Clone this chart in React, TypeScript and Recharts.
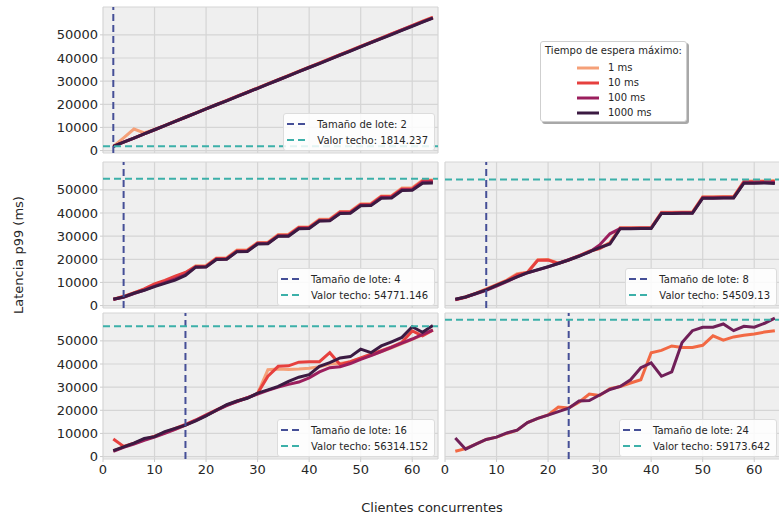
import React from 'react'
import { LineChart, Line, XAxis, YAxis, CartesianGrid, ReferenceLine } from 'recharts'

const clients = [2, 4, 6, 8, 10, 12, 14, 16, 18, 20, 22, 24, 26, 28, 30, 32, 34, 36, 38, 40, 42, 44, 46, 48, 50, 52, 54, 56, 58, 60, 62, 64]
const xTicks = [0, 10, 20, 30, 40, 50, 60]
const yTicks = [0, 10000, 20000, 30000, 40000, 50000]

const waitLabels = ['1 ms', '10 ms', '100 ms', '1000 ms']
const waitColors = ['#f5a078', '#e6403e', '#9b1e5d', '#3b1a42']
const pairColors = ['#f26944', '#701f58']

const batchSizes = [2, 4, 8, 16, 24]
const ceilings = [1814.237, 54771.146, 54509.13, 56314.152, 59173.642]

// lote 2
const b2_1 = [1800, 5500, 9300, 7600, 9100, 10900, 12700, 14500, 16300, 18100, 19900, 21700, 23500, 25300, 27100, 28900, 30700, 32500, 34300, 36100, 37900, 39700, 41500, 43300, 45100, 46900, 48700, 50500, 52300, 54100, 55900, 57700]
const b2_10 = [1800, 3600, 5400, 7200, 9000, 10800, 12600, 14400, 16200, 18000, 19800, 21600, 23400, 25200, 27000, 28800, 30600, 32400, 34200, 36000, 37800, 39600, 41400, 43200, 45000, 46800, 48600, 50400, 52200, 54000, 55800, 57500]
const b2_100 = [1800, 3600, 5400, 7200, 9000, 10800, 12600, 14400, 16200, 18000, 19800, 21600, 23400, 25100, 26900, 28700, 30500, 32300, 34100, 35900, 37700, 39500, 41300, 43100, 44900, 46700, 48500, 50300, 52100, 53900, 55600, 57300]
const b2_1000 = [1800, 3600, 5400, 7200, 9000, 10800, 12600, 14400, 16200, 18000, 19800, 21500, 23300, 25100, 26900, 28700, 30500, 32300, 34100, 35900, 37600, 39400, 41200, 43000, 44800, 46600, 48400, 50100, 51900, 53700, 55500, 57200]

// lote 4
const b4_1 = [2800, 4000, 5600, 7000, 8800, 10400, 12000, 14200, 17200, 17300, 20600, 20700, 24000, 24100, 27300, 27400, 30700, 30800, 34000, 34100, 37300, 37400, 40700, 40800, 44000, 44100, 47400, 47500, 50800, 50900, 54200, 54300]
const b4_10 = [2600, 3900, 5500, 7200, 9400, 10900, 12700, 14300, 16900, 17000, 20300, 20400, 23700, 23800, 27000, 27100, 30400, 30500, 33700, 33800, 37000, 37100, 40400, 40500, 43700, 43800, 47100, 47200, 50400, 50500, 53800, 53900]
const b4_100 = [2700, 3600, 5200, 6700, 8400, 9900, 11500, 13400, 16700, 16800, 20000, 20100, 23400, 23500, 26800, 26900, 30100, 30200, 33400, 33500, 36700, 36800, 40000, 40100, 43400, 43500, 46700, 46800, 50000, 50100, 53300, 53400]
const b4_1000 = [2700, 3700, 5300, 6600, 8200, 9600, 11000, 13000, 16600, 16700, 19900, 20000, 23300, 23400, 26600, 26700, 30000, 30000, 33200, 33300, 36500, 36600, 39800, 39900, 43100, 43200, 46400, 46500, 49700, 49800, 52900, 53000]

// lote 8
const b8_1 = [2600, 3800, 5400, 7200, 9000, 11000, 13800, 14400, 19800, 19900, 18300, 19800, 21600, 23400, 24900, 27200, 33600, 33600, 33700, 33700, 40300, 40300, 40400, 40400, 47000, 47000, 47100, 47100, 53700, 53800, 53800, 54000]
const b8_10 = [2500, 3600, 5300, 7000, 8900, 10800, 13300, 14300, 19600, 19700, 18200, 19700, 21500, 23500, 24600, 27000, 33500, 33500, 33500, 33600, 40100, 40100, 40200, 40200, 46800, 46800, 46900, 46900, 53500, 53500, 53600, 53600]
const b8_100 = [2600, 3700, 5100, 6600, 8400, 10300, 12500, 14100, 15400, 16700, 18300, 19800, 21500, 23100, 26200, 31000, 33300, 33300, 33400, 33400, 39900, 39900, 40000, 40000, 46500, 46500, 46600, 46600, 53100, 53100, 53200, 53200]
const b8_1000 = [2700, 3700, 5200, 6800, 8700, 10600, 12400, 14200, 15500, 16800, 18200, 19700, 21300, 23200, 25000, 26600, 33200, 33200, 33300, 33300, 39800, 39800, 39900, 39900, 46400, 46400, 46500, 46500, 52900, 52900, 53000, 52800]

// lote 16
const b16_1 = [2500, 4200, 5600, 7200, 8600, 10200, 11800, 13600, 15600, 17800, 20000, 22200, 24000, 25400, 27200, 37500, 37800, 37600, 37800, 38200, 38800, 40000, 40200, 41000, 42400, 43800, 45400, 47000, 48800, 50600, 52600, 54800]
const b16_10 = [7600, 4400, 5800, 7400, 8800, 10400, 12200, 13900, 15800, 18000, 20200, 22200, 23800, 25400, 27300, 34700, 39000, 39200, 40800, 41000, 41000, 44900, 39800, 41000, 42600, 44200, 45800, 47400, 49400, 54300, 52200, 54600]
const b16_100 = [2300, 4000, 5400, 7000, 8400, 10000, 11800, 13600, 15600, 17800, 20000, 22000, 23800, 25400, 27000, 28600, 30000, 31200, 32200, 34000, 36600, 38400, 38800, 40200, 42000, 43600, 45400, 47200, 49000, 50800, 52800, 54600]
const b16_1000 = [2600, 4200, 5800, 7800, 8600, 10800, 12200, 13600, 15400, 17600, 20000, 22400, 24000, 25200, 27400, 28800, 30300, 32500, 34300, 35400, 39000, 40600, 42600, 43200, 46400, 44900, 47800, 49600, 51500, 56100, 53700, 56600]

// lote 24 (dos series)
const b24_a = [2300, 3400, 5400, 7400, 8400, 10000, 11400, 14700, 16500, 18000, 21400, 21000, 23500, 27000, 26400, 29300, 30300, 31800, 33200, 44900, 45900, 47800, 47100, 47100, 48100, 52200, 50300, 51700, 52400, 53000, 53800, 54400]
const b24_b = [8000, 3200, 5400, 7400, 8400, 10200, 11400, 14700, 16500, 17900, 19400, 20900, 24000, 24200, 26600, 29000, 30300, 33200, 38400, 40500, 34700, 36600, 49300, 54400, 55900, 55900, 57300, 54400, 56300, 55900, 57600, 59800]

const PW = 335
const PH = 146
const FONT = '"DejaVu Sans", sans-serif'

const emptyTick = () => <g />

interface PanelProps {
  left: number
  top: number
  showX: boolean
  showY: boolean
  series: number[][]
  colors: string[]
  batch: number
  ceiling: number
}

function Panel({ left, top, showX, showY, series, colors, batch, ceiling }: PanelProps) {
  const data = clients.map((c, i) => {
    const row: any = { x: c }
    series.forEach((s, j) => (row['s' + j] = s[i]))
    return row
  })
  const yW = showY ? 63 : 0
  const xH = showX ? 26 : 0
  const tickStyle = { fill: '#262626', fontSize: 13, fontFamily: FONT }
  return (
    <>
      <div style={{ position: 'absolute', left: left - yW, top }}>
        <LineChart width={PW + yW} height={PH + xH} data={data} margin={{ top: 0, right: 0, bottom: 0, left: 0 }}>
          <CartesianGrid fill="#efefef" stroke="#d5d5d5" strokeWidth={1.2} />
          <XAxis
            dataKey="x"
            type="number"
            domain={[0, 65]}
            ticks={xTicks}
            interval={0}
            allowDataOverflow
            height={xH}
            axisLine={false}
            tick={showX ? tickStyle : emptyTick}
            tickLine={showX ? { stroke: '#cccccc' } : false}
            tickSize={3}
            tickMargin={3}
          />
          <YAxis
            type="number"
            domain={[-1054, 62041]}
            ticks={yTicks}
            interval={0}
            allowDataOverflow
            width={yW}
            axisLine={false}
            tick={showY ? tickStyle : emptyTick}
            tickLine={showY ? { stroke: '#cccccc' } : false}
            tickSize={3}
            tickMargin={2}
          />
          {series.map((_, j) => (
            <Line
              key={j}
              type="linear"
              dataKey={'s' + j}
              stroke={colors[j]}
              strokeWidth={3}
              dot={false}
              isAnimationActive={false}
            />
          ))}
          <ReferenceLine x={batch} stroke="#454f97" strokeWidth={2} strokeDasharray="7 4" />
          <ReferenceLine y={ceiling} stroke="#3cb0a9" strokeWidth={2} strokeDasharray="7 4" />
        </LineChart>
      </div>
      <div style={{ position: 'absolute', left, top, width: PW, height: PH, pointerEvents: 'none' }}>
        <div
          style={{
            position: 'absolute',
            right: 3,
            bottom: 2,
            background: 'rgba(255,255,255,0.85)',
            border: '1px solid #dcdcdc',
            borderRadius: 3,
            padding: '2px 6px 2px 3px',
            fontFamily: FONT,
            fontSize: 10,
            color: '#262626',
          }}
        >
          {[
            { c: '#454f97', t: `Tamaño de lote: ${batch}` },
            { c: '#3cb0a9', t: `Valor techo: ${ceiling}` },
          ].map((r) => (
            <div key={r.t} style={{ display: 'flex', alignItems: 'center', height: 16 }}>
              <svg width={20} height={6} style={{ marginRight: 10 }}>
                <line x1={0} y1={3} x2={20} y2={3} stroke={r.c} strokeWidth={2} strokeDasharray="7 4" />
              </svg>
              <span>{r.t}</span>
            </div>
          ))}
        </div>
      </div>
    </>
  )
}

export default function App() {
  const L1 = 103
  const L2 = 445
  const T = [7, 162, 313]
  return (
    <div style={{ position: 'relative', width: 779, height: 517, background: '#fff', overflow: 'hidden', fontFamily: FONT }}>
      <style>{'body{margin:0} .recharts-surface{overflow:visible} .recharts-wrapper{overflow:visible}'}</style>
      <Panel left={L1} top={T[0]} showX={false} showY series={[b2_1, b2_10, b2_100, b2_1000]} colors={waitColors} batch={batchSizes[0]} ceiling={ceilings[0]} />
      <Panel left={L1} top={T[1]} showX={false} showY series={[b4_1, b4_10, b4_100, b4_1000]} colors={waitColors} batch={batchSizes[1]} ceiling={ceilings[1]} />
      <Panel left={L2} top={T[1]} showX={false} showY={false} series={[b8_1, b8_10, b8_100, b8_1000]} colors={waitColors} batch={batchSizes[2]} ceiling={ceilings[2]} />
      <Panel left={L1} top={T[2]} showX showY series={[b16_1, b16_10, b16_100, b16_1000]} colors={waitColors} batch={batchSizes[3]} ceiling={ceilings[3]} />
      <Panel left={L2} top={T[2]} showX showY={false} series={[b24_a, b24_b]} colors={pairColors} batch={batchSizes[4]} ceiling={ceilings[4]} />

      <div
        style={{
          position: 'absolute',
          left: 540,
          top: 41,
          width: 145,
          height: 79,
          background: '#fff',
          border: '1px solid #cfcfcf',
          borderRadius: 3,
          boxShadow: '2px 2px 0 #a8a8a8',
          fontSize: 10,
          color: '#262626',
        }}
      >
        <div style={{ textAlign: 'center', marginTop: 3, height: 15, whiteSpace: 'nowrap' }}>Tiempo de espera máximo:</div>
        {waitLabels.map((w, i) => (
          <div key={w} style={{ display: 'flex', alignItems: 'center', height: 15, paddingLeft: 36 }}>
            <svg width={22} height={6} style={{ marginRight: 9 }}>
              <line x1={0} y1={3} x2={22} y2={3} stroke={waitColors[i]} strokeWidth={3} />
            </svg>
            <span>{w}</span>
          </div>
        ))}
      </div>

      <div
        style={{
          position: 'absolute',
          left: 18,
          top: 255,
          transform: 'translate(-50%, -50%) rotate(-90deg)',
          fontSize: 13,
          color: '#262626',
          whiteSpace: 'nowrap',
        }}
      >
        Latencia p99 (ms)
      </div>
      <div
        style={{
          position: 'absolute',
          left: 432,
          top: 507,
          transform: 'translate(-50%, -50%)',
          fontSize: 13,
          color: '#262626',
          whiteSpace: 'nowrap',
        }}
      >
        Clientes concurrentes
      </div>
    </div>
  )
}
